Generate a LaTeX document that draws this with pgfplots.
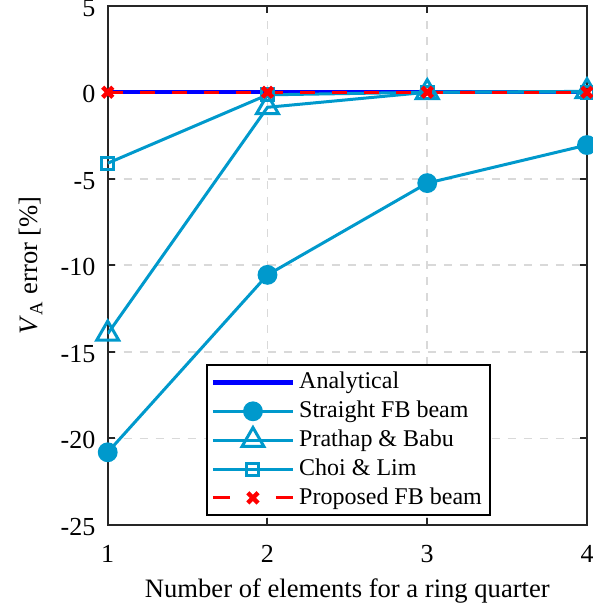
\documentclass[border=0pt]{standalone}
\usepackage{fontspec}
\setmainfont{Liberation Serif}
\usepackage{pgfplots}
\pgfplotsset{compat=1.18}
\definecolor{cy}{RGB}{0,153,204}
\begin{document}
\fontsize{12}{14.4}\selectfont
\begin{tikzpicture}
\clip (-53.85pt,-42pt) rectangle (242.6pt,262.45pt);
\begin{axis}[
  at={(0,0)}, anchor=south west,
  scale only axis,
  width=239.6pt, height=259.6pt,
  xmin=1, xmax=4, ymin=-25, ymax=5,
  xtick={1,2,3,4}, ytick={-25,-20,-15,-10,-5,0,5},
  yticklabels={-25,-20,-15,-10,-5,0,5},
  xticklabels={1,2,3,4},
  tick align=inside, tick pos=both,
  major tick length=3.5pt,
  axis line style={line width=1pt, black!85},
  every tick/.style={line width=1pt, black!85},
  grid=major,
  major grid style={dash pattern=on 4pt off 4pt, line width=0.9pt, black!15},
  ticklabel style={font=\fontsize{13}{15.6}\selectfont},
  yticklabel style={xshift=-2pt, yshift=-1pt},
  xticklabel style={yshift=-5.8pt},
  xlabel={Number of elements for a ring quarter},
  ylabel={\textit{V}\textsubscript{A} error [\%]},
  label style={font=\fontsize{13.3}{16}\selectfont},
  xlabel style={yshift=0pt},
  ylabel style={yshift=1pt},
  legend cell align=left,
  legend style={at={(0.502,0.0173)}, anchor=south, draw=black, line width=1pt,
    font=\fontsize{12}{14.4}\selectfont, row sep=0.3pt, inner xsep=2pt, inner ysep=1.5pt},
  legend image code/.code={\draw[mark repeat=2,mark phase=2] plot coordinates {(0pt,0pt) (20pt,0pt) (40pt,0pt)};},
]
\addplot[blue, line width=2.2pt] coordinates {(1,0) (2,0) (3,0) (4,0)};
\addlegendentry{Analytical}
\addplot[cy, line width=1.5pt, mark=*, mark size=4.2pt] coordinates {(1,-20.8) (2,-10.55) (3,-5.25) (4,-3.05)};
\addlegendentry{Straight FB beam}
\addplot[cy, line width=1.5pt, mark=triangle, mark size=6.3pt, mark options={solid}] coordinates {(1,-13.95) (2,-0.87) (3,0.0) (4,0.05)};
\addlegendentry{Prathap \& Babu}
\addplot[cy, line width=1.5pt, mark=square, mark size=3pt] coordinates {(1,-4.1) (2,-0.15) (3,0) (4,0)};
\addlegendentry{Choi \& Lim}
\addplot[red, line width=1.5pt, dash pattern=on 7.5pt off 8.5pt, mark=x, mark size=3.6pt, mark options={solid, line width=2.2pt},
  legend image post style={dash pattern=on 8.5pt off 23pt}] coordinates {(1,0) (2,0) (3,0) (4,0)};
\addlegendentry{Proposed FB beam}
\end{axis}
\end{tikzpicture}
\end{document}
